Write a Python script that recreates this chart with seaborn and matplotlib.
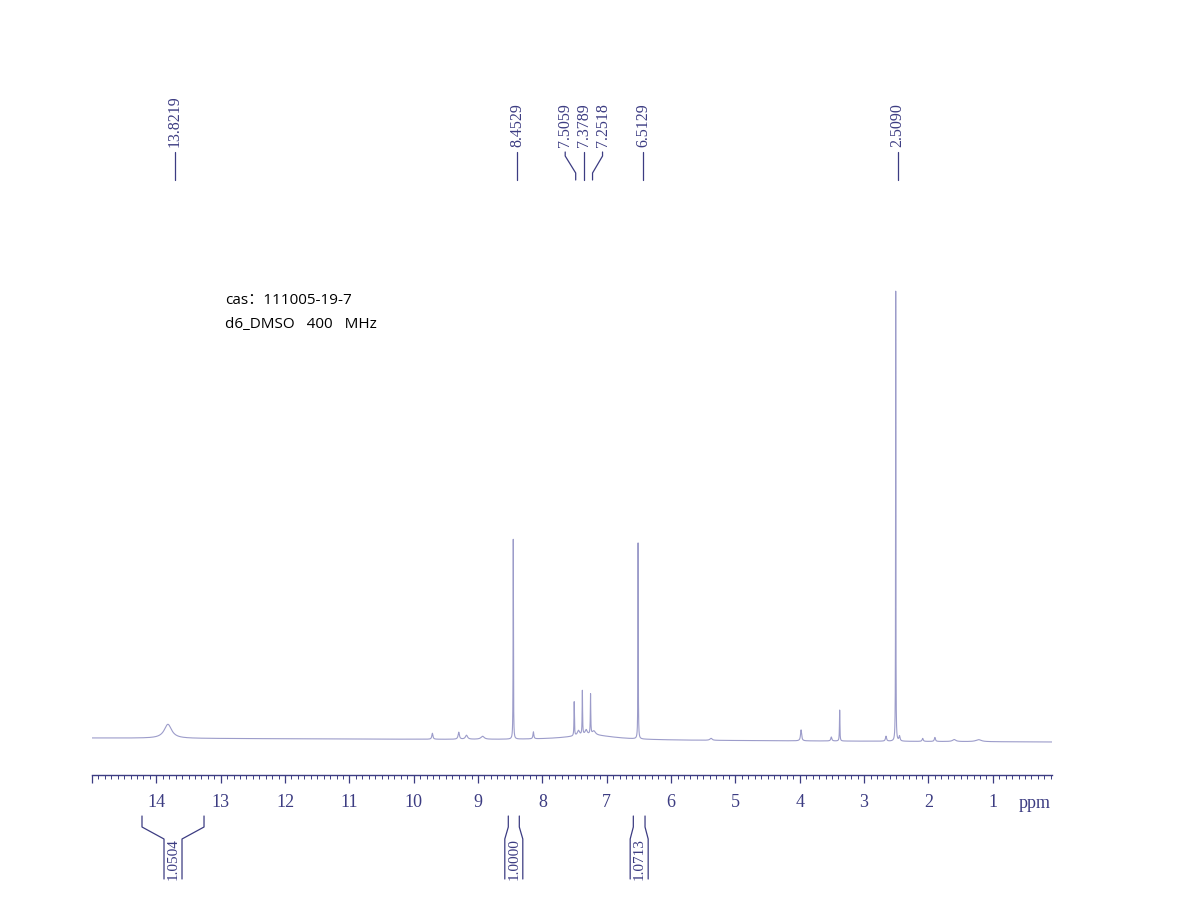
import numpy as np
import pandas as pd
import matplotlib
matplotlib.use("Agg")
import matplotlib.pyplot as plt
import seaborn as sns

# ---------------- data ----------------
# peak centres (ppm), heights (px above baseline), half widths (ppm)
peak_ppm = [13.82, 9.71, 9.30, 9.18, 8.93, 8.4529, 8.14, 7.5059, 7.44, 7.3789,
            7.32, 7.2518, 7.20, 7.25, 6.5129, 5.38, 3.98, 3.51, 3.38, 2.66,
            2.5090, 2.45, 2.09, 1.90, 1.60, 1.22]
peak_height = [14, 6, 7, 4, 3, 200, 7, 34, 5, 44,
               5, 40, 4, 5, 196, 2, 11, 4, 31, 5,
               450, 5, 3, 4, 2, 2]
peak_hwhm = [0.07, 0.01, 0.012, 0.02, 0.03, 0.003, 0.008, 0.004, 0.02, 0.004,
             0.02, 0.004, 0.03, 0.45, 0.003, 0.02, 0.01, 0.01, 0.004, 0.01,
             0.0025, 0.01, 0.01, 0.01, 0.03, 0.05]
baseline_left, baseline_right = 2.0, -2.0

shift_values = [13.8219, 8.4529, 7.5059, 7.3789, 7.2518, 6.5129, 2.5090]
shift_labels = ["13.8219", "8.4529", "7.5059", "7.3789", "7.2518", "6.5129", "2.5090"]
# label displacement (px) from the peak: leader top and leader foot
label_top_dx = [7, 4, -9, 2, 12, 5, 2]
label_bot_dx = [7, 4, 1.5, 2, 2, 5, 2]

int_ranges = [(14.223, 13.259), (8.530, 8.359), (6.587, 6.405)]
int_labels = ["1.0504", "1.0000", "1.0713"]

major_ticks = list(range(1, 15))
tick_labels = [str(t) for t in major_ticks]

header_lines = ["cas：111005-19-7", "d6_DMSO   400   MHz"]

# ---------------- spectrum ----------------
x_left, x_right = 15.0, 0.08
ppm = np.linspace(x_left, x_right, 60000)
inten = baseline_left + (baseline_right - baseline_left) * (x_left - ppm) / (x_left - x_right)
for c, h, w in zip(peak_ppm, peak_height, peak_hwhm):
    inten = inten + h / (1.0 + ((ppm - c) / w) ** 2)
df = pd.DataFrame({"ppm": ppm, "intensity": inten})

# ---------------- figure ----------------
sns.set_theme(style="white")
plt.rcParams["font.family"] = ["Liberation Serif", "DejaVu Serif"]
W, H = 1203, 906
fig = plt.figure(figsize=(W / 100, H / 100), dpi=100)
ax_l, ax_r, ax_b, ax_t = 92, 1052, 775, 50
ax = fig.add_axes([ax_l / W, 1 - ax_b / H, (ax_r - ax_l) / W, (ax_b - ax_t) / H])
y0 = 740  # image row of zero intensity
ax.set_xlim(x_left, x_right)
ax.set_ylim(-(ax_b - y0), y0 - ax_t)

navy = "#3c3c82"
spec_col = "#9c9cca"

sns.lineplot(data=df, x="ppm", y="intensity", ax=ax, estimator=None, sort=False,
             color=spec_col, linewidth=0.8)

ax.set_xlabel("")
ax.set_ylabel("")
ax.set_yticks([])
for s in ["top", "left", "right"]:
    ax.spines[s].set_visible(False)
ax.spines["bottom"].set_color(navy)
ax.spines["bottom"].set_linewidth(1.0)
ax.set_xticks([15] + major_ticks)
ax.set_xticklabels([""] + tick_labels)
ax.set_xticks(np.round(np.arange(0.1, 15.0, 0.1), 2), minor=True)
ax.tick_params(axis="x", which="major", direction="out", length=6, width=0.9,
               color=navy, labelcolor=navy, labelsize=13, pad=8, bottom=True)
ax.tick_params(axis="x", which="minor", direction="out", length=3, width=0.7,
               color=navy, bottom=True)

px = (x_left - x_right) / (ax_r - ax_l)  # ppm per pixel

def v(yimg):
    return y0 - yimg

ax.text(x_left - (1035 - ax_l) * px, v(803), "ppm", ha="center", va="center",
        color=navy, fontsize=13, clip_on=False)

# peak labels with leaders
for val, lab, dt, db in zip(shift_values, shift_labels, label_top_dx, label_bot_dx):
    x_top = val - dt * px
    x_bot = val - db * px
    if dt != db:
        xs = [x_bot, x_bot, x_top, x_top]
        ys = [v(180), v(173), v(156), v(152)]
    else:
        xs = [x_top, x_top]
        ys = [v(180), v(152)]
    ax.plot(xs, ys, color=navy, lw=0.9, clip_on=False)
    ax.text(x_top, v(147), lab, rotation=90, ha="center", va="bottom",
            color=navy, fontsize=11.5, clip_on=False)

# integral brackets
half = 9 * px
for (a, b), lab in zip(int_ranges, int_labels):
    c = (a + b) / 2
    for xo, xi in [(a, c + half), (b, c - half)]:
        ax.plot([xo, xo, xi, xi], [v(816), v(827), v(839), v(879)],
                color=navy, lw=0.9, clip_on=False)
    ax.text(c, v(859), lab, rotation=90, ha="center", va="center",
            color=navy, fontsize=11, clip_on=False)

# header text
for i, line in enumerate(header_lines):
    fig.text(225 / W, 1 - (300 + 25 * i) / H, line, ha="left", va="center",
             fontsize=11, color="black",
             family=["Open Sans", "Noto Sans CJK SC", "DejaVu Sans"])

fig.savefig("out.png", dpi=100, facecolor="white")
